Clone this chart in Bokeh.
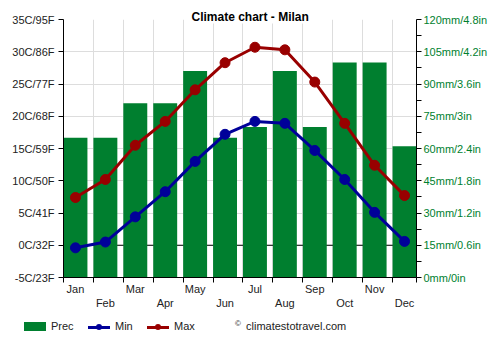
from bokeh.plotting import figure
from bokeh.layouts import column
from bokeh.models import (Range1d, LinearAxis, FixedTicker, Span, Grid, Title, Div)
from bokeh.embed import file_html
from bokeh.resources import INLINE

months = ["Jan", "Feb", "Mar", "Apr", "May", "Jun", "Jul", "Aug", "Sep", "Oct", "Nov", "Dec"]
prec = [65, 65, 81, 81, 96, 65, 70, 96, 70, 100, 100, 61]
tmin = [-0.4, 0.5, 4.4, 8.3, 13.0, 17.2, 19.2, 18.9, 14.7, 10.2, 5.1, 0.6]
tmax = [7.4, 10.2, 15.5, 19.2, 24.1, 28.3, 30.7, 30.3, 25.3, 18.9, 12.4, 7.7]
temp_ticks = [-5, 0, 5, 10, 15, 20, 25, 30, 35]
temp_labels = ["-5C/23F", "0C/32F", "5C/41F", "10C/50F", "15C/59F", "20C/68F",
               "25C/77F", "30C/86F", "35C/95F"]
prec_ticks = [0, 15, 30, 45, 60, 75, 90, 105, 120]
prec_labels = ["0mm/0in", "15mm/0.6in", "30mm/1.2in", "45mm/1.8in", "60mm/2.4in",
               "75mm/3in", "90mm/3.6in", "105mm/4.2in", "120mm/4.8in"]
legend_labels = ["Prec", "Min", "Max"]
credit = "climatestotravel.com"

GREEN = "#007f2f"
RED = "#990000"
BLUE = "#000099"
FONT = "Liberation Sans"

xs = list(range(len(months)))

p = figure(width=500, height=312, output_backend="svg", toolbar_location=None,
           x_range=Range1d(-0.4, 11.4), y_range=Range1d(-5, 35),
           min_border_left=63, min_border_right=84, min_border_top=19,
           min_border_bottom=35, x_axis_location=None, y_axis_location=None)
p.outline_line_color = None
p.background_fill_color = "white"
p.border_fill_color = "white"
p.extra_y_ranges = {"prec": Range1d(0, 120)}

p.title = Title(text="Climate chart - Milan", align="left", offset=128, standoff=-8,
                text_font=FONT, text_font_size="12px", text_font_style="bold",
                text_color="black", background_fill_color="white")

edges = [i - 0.4 for i in xs] + [11.4]
xaxis = LinearAxis(ticker=FixedTicker(ticks=xs, minor_ticks=edges))
xaxis.major_label_overrides = {i: (m if i % 2 == 0 else "\n" + m) for i, m in enumerate(months)}
xaxis.major_tick_out = 0
xaxis.major_tick_in = 0
xaxis.minor_tick_out = 5
xaxis.minor_tick_in = 0
xaxis.major_label_standoff = 0
xaxis.major_label_text_font = FONT
xaxis.major_label_text_font_size = "11px"
xaxis.major_label_text_color = "#222222"
xaxis.axis_line_color = "black"
xaxis.minor_tick_line_color = "black"
p.add_layout(xaxis, "below")

yaxis = LinearAxis(ticker=FixedTicker(ticks=temp_ticks))
yaxis.major_label_overrides = dict(zip(temp_ticks, temp_labels))
yaxis.major_tick_out = 5
yaxis.major_tick_in = 0
yaxis.minor_tick_line_color = None
yaxis.major_label_standoff = 4
yaxis.major_label_text_font = FONT
yaxis.major_label_text_font_size = "11px"
yaxis.major_label_text_color = "#222222"
yaxis.axis_line_color = "black"
p.add_layout(yaxis, "left")

raxis = LinearAxis(y_range_name="prec",
                   ticker=FixedTicker(ticks=prec_ticks,
                                      minor_ticks=[t + 7.5 for t in prec_ticks[:-1]]))
raxis.major_label_overrides = dict(zip(prec_ticks, prec_labels))
raxis.major_tick_out = 5
raxis.major_tick_in = 0
raxis.minor_tick_out = 5
raxis.minor_tick_in = 0
raxis.minor_tick_line_color = "black"
raxis.major_label_standoff = 2
raxis.major_label_text_font = FONT
raxis.major_label_text_font_size = "11px"
raxis.major_label_text_color = GREEN
raxis.axis_line_color = "black"
p.add_layout(raxis, "right")

p.xgrid.grid_line_color = None
p.ygrid.grid_line_color = None
vgrid = Grid(dimension=0, ticker=FixedTicker(ticks=edges), grid_line_color="#dddddd")
hgrid = Grid(dimension=1, ticker=FixedTicker(ticks=temp_ticks), grid_line_color="#dddddd")
p.add_layout(vgrid)
p.add_layout(hgrid)
p.add_layout(Span(location=0, dimension="width", line_color="black", line_width=1,
                  level="underlay"))

p.vbar(x=xs, top=prec, width=0.8, bottom=0, y_range_name="prec",
       fill_color=GREEN, line_color=None)
p.line(xs, tmin, line_color=BLUE, line_width=3)
p.scatter(xs, tmin, size=10, fill_color=BLUE, line_color=BLUE)
p.line(xs, tmax, line_color=RED, line_width=3)
p.scatter(xs, tmax, size=10, fill_color=RED, line_color=RED)

# legend strip below the chart (HTML)
txt = ("position:absolute;top:8px;font-family:Liberation Sans,Arial,sans-serif;"
       "font-size:11px;line-height:13px;color:#222;white-space:nowrap;")
def line_swatch(left, color):
    return (f'<div style="position:absolute;left:{left}px;top:13.5px;width:22px;height:3px;'
            f'background:{color};"></div>'
            f'<div style="position:absolute;left:{left + 8}px;top:12px;width:6px;height:6px;'
            f'border-radius:3px;background:{color};"></div>')
html = ('<div style="position:relative;width:500px;height:38px;">'
        f'<div style="position:absolute;left:24px;top:10px;width:22px;height:9px;background:{GREEN};"></div>'
        f'<div style="{txt}left:51px;">{legend_labels[0]}</div>'
        + line_swatch(88, BLUE) +
        f'<div style="{txt}left:115px;">{legend_labels[1]}</div>'
        + line_swatch(147, RED) +
        f'<div style="{txt}left:174px;">{legend_labels[2]}</div>'
        f'<div style="{txt}left:235px;top:5px;font-size:8px;">©</div>'
        f'<div style="{txt}left:246px;">{credit}</div>'
        '</div>')
div = Div(text=html, width=500, height=38, margin=(0, 0, 0, 0))

open("out.html", "w").write(file_html(column(p, div), INLINE))
